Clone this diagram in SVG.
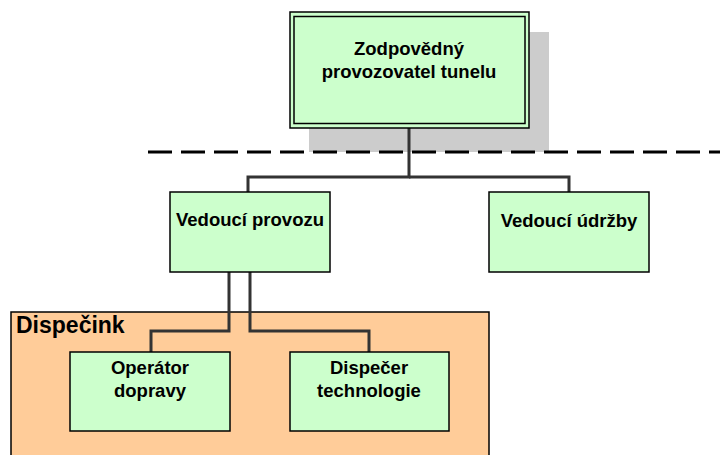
<svg xmlns="http://www.w3.org/2000/svg" width="720" height="455" viewBox="0 0 720 455">
<style>
.box{fill:#ccffcc;stroke:#000;stroke-width:1.5}
.t{font-family:"Liberation Sans",Arial,sans-serif;font-weight:bold;font-size:18.5px;fill:#000;text-anchor:middle}
.c{fill:none;stroke:#333;stroke-width:3}
</style>
<rect width="720" height="455" fill="#fff"/>
<g id="dispecink">
<rect x="11" y="312" width="478" height="150" fill="#ffcc99" stroke="#000" stroke-width="1.5"/>
<text x="16" y="333" font-family="Liberation Sans,Arial,sans-serif" font-weight="bold" font-size="23" fill="#000">Dispečink</text>
</g>
<rect x="309" y="32" width="240" height="120" fill="#cccccc"/>
<line x1="148" y1="152" x2="720" y2="152" stroke="#000" stroke-width="3" stroke-dasharray="24 9"/>
<g id="connectors">
<polyline class="c" points="409,128 409,177 248,177 248,192"/>
<polyline class="c" points="409,177 569,177 569,192"/>
<polyline class="c" points="229,272 229,331 151,331 151,352"/>
<polyline class="c" points="250,272 250,331 369,331 369,352"/>
</g>
<g id="top">
<rect x="290" y="12" width="239" height="116" fill="#ccffcc" stroke="#000" stroke-width="1.5"/>
<rect x="294" y="16.5" width="231" height="107" fill="none" stroke="#000" stroke-width="1.5"/>
<text class="t" x="409" y="55">Zodpovědný</text>
<text class="t" x="409" y="78">provozovatel tunelu</text>
</g>
<g id="vedouci-provozu">
<rect class="box" x="170" y="192" width="160" height="80"/>
<text class="t" x="250" y="226">Vedoucí provozu</text>
</g>
<g id="vedouci-udrzby">
<rect class="box" x="489" y="192" width="160" height="80"/>
<text class="t" x="569" y="227">Vedoucí údržby</text>
</g>
<g id="operator">
<rect class="box" x="70" y="352" width="160" height="79"/>
<text class="t" x="150" y="374">Operátor</text>
<text class="t" x="150" y="397">dopravy</text>
</g>
<g id="dispecer">
<rect class="box" x="290" y="352" width="159" height="79"/>
<text class="t" x="369" y="374">Dispečer</text>
<text class="t" x="369" y="397">technologie</text>
</g>
</svg>
